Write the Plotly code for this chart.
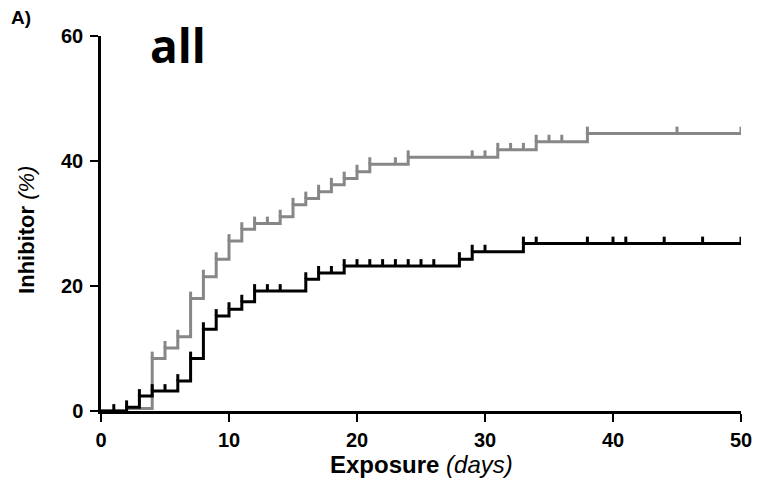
import plotly.graph_objects as go

# Kaplan-Meier style step data (days, % with inhibitor)
black_times = [0, 2, 3, 4, 6, 7, 8, 9, 10, 11, 12, 16, 17, 19, 28, 29, 33, 50]
black_vals = [0, 0.6, 2.4, 3.2, 4.8, 8.4, 13.1, 15.2, 16.3, 17.5, 19.2, 21.1, 22.1, 23.2, 24.3, 25.5, 26.8, 26.8]
black_ticks = [1, 2, 3, 4, 5, 6, 7, 8, 9, 10, 11, 12, 13, 14, 16, 17, 18, 19, 20, 21, 22, 23, 24, 25, 26,
               28, 29, 30, 33, 34, 38, 40, 41, 44, 47, 50]

gray_times = [0, 2, 4, 5, 6, 7, 8, 9, 10, 11, 12, 14, 15, 16, 17, 18, 19, 20, 21, 24, 31, 34, 38, 50]
gray_vals = [0, 0.4, 8.4, 10.1, 11.9, 18.0, 21.5, 24.3, 27.2, 29.1, 30.0, 31.1, 33.0, 34.0, 35.1, 36.2,
             37.2, 38.3, 39.5, 40.6, 41.8, 43.1, 44.4, 44.4]
gray_ticks = [4, 5, 6, 7, 8, 9, 10, 11, 12, 13, 14, 15, 16, 17, 18, 19, 20, 21, 23, 24, 29, 30, 31, 32,
              33, 34, 35, 36, 38, 45, 50]

x_tickvals = [0, 10, 20, 30, 40, 50]
y_tickvals = [0, 20, 40, 60]

TICK_H = 1.1  # censor tick height in % units


def level_at(t, times, vals):
    v = vals[0]
    for tt, vv in zip(times, vals):
        if tt <= t:
            v = vv
    return v


def tick_segments(ticks, times, vals):
    xs, ys = [], []
    for t in ticks:
        lv = level_at(t, times, vals)
        xs += [t, t, None]
        ys += [lv, lv + TICK_H, None]
    return xs, ys


GRAY = "#878787"
BLACK = "#000000"

fig = go.Figure()
for times, vals, ticks, col in [(gray_times, gray_vals, gray_ticks, GRAY),
                                (black_times, black_vals, black_ticks, BLACK)]:
    fig.add_trace(go.Scatter(x=times, y=vals, mode="lines", line=dict(color=col, width=3, shape="hv"),
                             showlegend=False, hoverinfo="skip"))
    tx, ty = tick_segments(ticks, times, vals)
    fig.add_trace(go.Scatter(x=tx, y=ty, mode="lines", line=dict(color=col, width=3),
                             showlegend=False, hoverinfo="skip"))

font_main = "Liberation Sans, Arial, sans-serif"

fig.update_layout(
    width=758, height=478,
    margin=dict(l=101, r=17, t=36, b=67, autoexpand=False),
    paper_bgcolor="white", plot_bgcolor="white",
    font=dict(family=font_main, color="black"),
    xaxis=dict(range=[0, 50], tickvals=x_tickvals, showgrid=False, zeroline=False, automargin=False,
               showline=True, linecolor="black", linewidth=2.5, ticks="outside", ticklen=8,
               tickwidth=2, tickcolor="black",
               tickfont=dict(size=20, family=font_main, weight="bold"), ticklabelstandoff=1),
    yaxis=dict(range=[0, 60], tickvals=y_tickvals, showgrid=False, zeroline=False, automargin=False,
               showline=True, linecolor="black", linewidth=2.5, ticks="outside", ticklen=8,
               tickwidth=2, tickcolor="black",
               tickfont=dict(size=20, family=font_main, weight="bold"), ticklabelstandoff=3),
    annotations=[
        dict(text="<b>Exposure</b> <i>(days)</i>", xref="paper", yref="paper", x=0.5, y=-0.144,
             xanchor="center", yanchor="middle", showarrow=False, font=dict(size=24, family=font_main)),
        dict(text="<b>Inhibitor</b> <i>(%)</i>", xref="paper", yref="paper", x=-0.1156, y=0.483,
             xanchor="center", yanchor="middle", textangle=-90, showarrow=False,
             font=dict(size=22, family=font_main)),
        dict(text="all", xref="paper", yref="paper", x=0.12, y=0.976, xanchor="center", yanchor="middle",
             showarrow=False, font=dict(size=46, family="Open Sans, sans-serif", weight="bold")),
        dict(text="<b>A)</b>", xref="paper", yref="paper", x=-0.143, y=1.05, xanchor="left",
             yanchor="middle", showarrow=False, font=dict(size=19, family=font_main)),
    ],
)

fig.write_html("out.html", config={"displayModeBar": False},
               post_script="document.body.style.margin='0';document.body.style.overflow='hidden';")
